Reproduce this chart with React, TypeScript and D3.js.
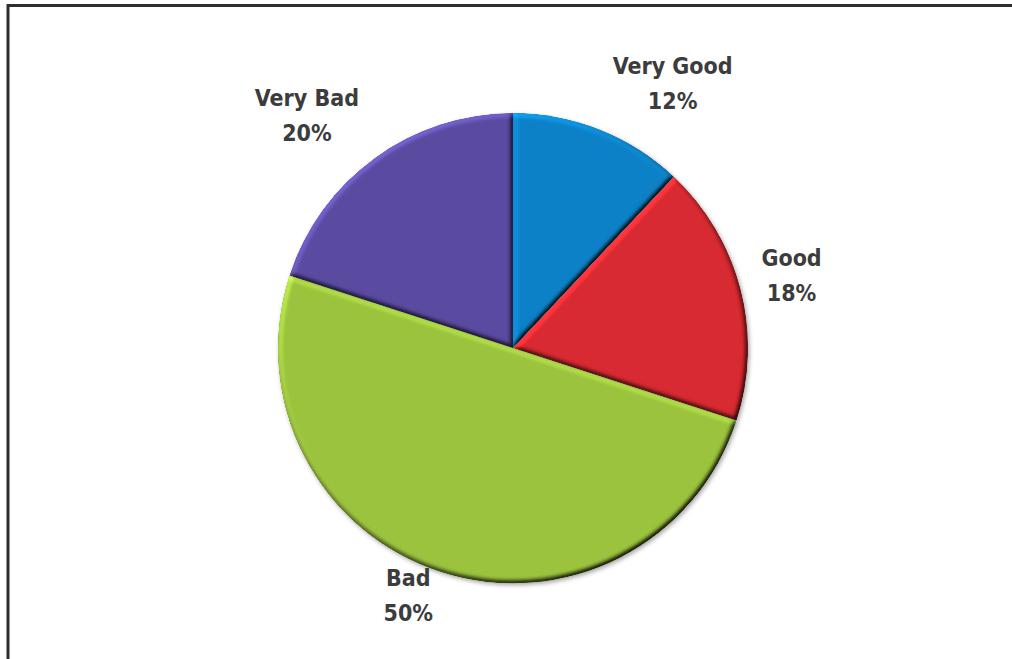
import React from "react";
import * as d3 from "d3";

const categories = ["Very Good", "Good", "Bad", "Very Bad"];
const values = [12, 18, 50, 20];
const colors = ["#0a82c8", "#d92a30", "#9cc43e", "#5b4ba1"];

const W = 1012;
const H = 659;
const cx = 513;
const cy = 348;
const R = 235;

// label block placement (angle from 12 o'clock clockwise, distance from centre)
const labelPlacement: Record<string, [number, number]> = {
  "Very Good": [31.1, 309],
  Good: [75.3, 288],
  Bad: [203.0, 268],
  "Very Bad": [318.5, 311],
};

export default function App() {
  const pie = d3.pie<number>().sort(null).value((d) => d);
  const arcs = pie(values);
  const arcGen = d3.arc<d3.PieArcDatum<number>>().innerRadius(0).outerRadius(R);
  const total = d3.sum(values);

  return (
    <svg
      width={W}
      height={H}
      style={{ position: "absolute", left: 0, top: 0, display: "block" }}
    >
      <defs>
        <filter
          id="bevel"
          x="-10%"
          y="-10%"
          width="120%"
          height="120%"
          colorInterpolationFilters="sRGB"
        >
          <feGaussianBlur in="SourceAlpha" stdDeviation="2.5" result="blur" />
          <feDiffuseLighting
            in="blur"
            surfaceScale="3"
            diffuseConstant="1"
            lightingColor="#ffffff"
            result="light"
          >
            <feDistantLight azimuth="235" elevation="50" />
          </feDiffuseLighting>
          <feComposite
            in="SourceGraphic"
            in2="light"
            operator="arithmetic"
            k1="1.3"
            k2="0"
            k3="0"
            k4="0"
            result="lit"
          />
          <feComposite in="lit" in2="SourceAlpha" operator="in" />
        </filter>
        <filter id="shadow" x="-10%" y="-10%" width="120%" height="120%">
          <feDropShadow dx="1.5" dy="2" stdDeviation="2" floodColor="#000" floodOpacity="0.35" />
        </filter>
      </defs>
      <rect x={0} y={0} width={W} height={H} fill="#fff" />
      <line x1={8} y1={5.5} x2={W} y2={5.5} stroke="#2e2e2e" strokeWidth={3} />
      <line x1={8} y1={4} x2={8} y2={H} stroke="#2e2e2e" strokeWidth={3} />
      <g transform={`translate(${cx},${cy})`} filter="url(#shadow)">
        {arcs.map((a, i) => (
          <path
            key={i}
            d={arcGen(a) || ""}
            fill={colors[i]}
            filter="url(#bevel)"
          />
        ))}
      </g>
      {categories.map((cat, i) => {
        const [ang, dist] = labelPlacement[cat];
        const rad = (ang * Math.PI) / 180;
        const x = cx + Math.sin(rad) * dist;
        const y = cy - Math.cos(rad) * dist;
        const pct = Math.round((values[i] / total) * 100);
        return (
          <text
            key={cat}
            x={x}
            y={y}
            textAnchor="middle"
            fontFamily="'DejaVu Sans Condensed', 'Liberation Sans Narrow', Arial, sans-serif"
            fontSize={23}
            fontWeight="bold"
            fill="#3c3c3c"
          >
            <tspan x={x} dy={-9}>
              {cat}
            </tspan>
            <tspan x={x} dy={35}>
              {pct}%
            </tspan>
          </text>
        );
      })}
    </svg>
  );
}
